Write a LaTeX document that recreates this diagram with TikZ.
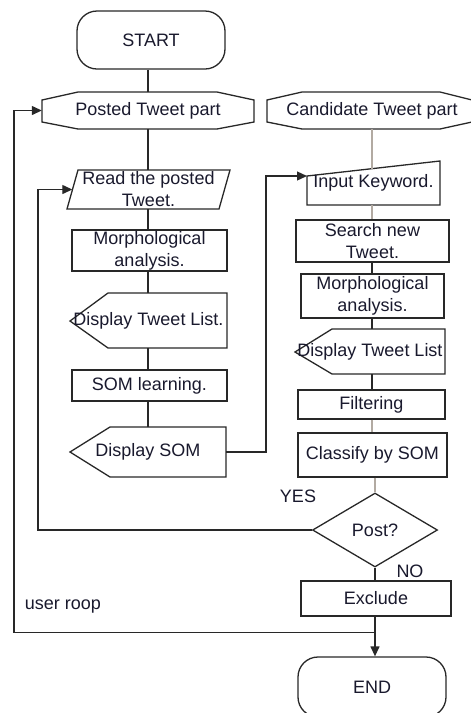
\documentclass[tikz,border=0pt]{standalone}
\usepackage{fontspec}
\setmainfont{Liberation Sans}
\usetikzlibrary{arrows.meta,shapes.geometric,calc}
\definecolor{ln}{RGB}{40,40,40}
\definecolor{gl}{RGB}{178,170,162}
\definecolor{tx}{RGB}{25,25,45}
\begin{document}
\begin{tikzpicture}[x=1pt,y=-1pt,
  font=\fontsize{18}{22}\selectfont, text=tx,
  shp/.style={draw=ln, line width=1.3pt, line join=miter},
  box/.style={shp, rectangle, inner sep=0pt, align=center},
  term/.style={box, rounded corners=20pt},
  lbl/.style={inner sep=0pt, align=center},
  conn/.style={draw=ln, line width=1.3pt},
  gconn/.style={draw=gl, line width=1.3pt},
  arr/.style={-{Triangle[length=10pt,width=9pt]}}]
\useasboundingbox (0,0) rectangle (471,713);

% ---- shapes drawn as paths ----
\draw[shp] (42,100)--(78,92)--(217,92)--(254,100)--(254,122)--(217,129)--(78,129)--(42,122)--cycle;
\draw[shp] (267,100)--(302,92)--(440,92)--(472,100)--(472,122)--(440,129)--(302,129)--(267,122)--cycle;
\draw[shp] (78,170)--(230,170)--(219,209)--(67,209)--cycle;
\draw[shp] (70,321)--(108,293)--(227,293)--(227,348)--(108,348)--cycle;
\draw[shp] (70,452)--(110,427)--(226,427)--(226,477)--(110,477)--cycle;
\draw[shp] (307,176)--(440,161)--(440,205)--(307,205)--cycle;
\draw[shp] (295,352)--(332,329)--(445,329)--(445,374)--(332,374)--cycle;

% ---- nodes ----
\node[term, minimum width=148pt, minimum height=58pt] (start) at (151,40) {START};
\node[lbl, minimum width=212pt, minimum height=37pt] (posted) at (148,110.5) {Posted Tweet part};
\node[lbl, minimum width=200pt, minimum height=37pt] (cand) at (372,110.5) {Candidate Tweet part};
\node[lbl, minimum width=152pt, minimum height=39pt] (read) at (148.5,189.5) {Read the posted\\Tweet.};
\node[box, minimum width=155pt, minimum height=41pt] (m1) at (149.5,250.5) {Morphological\\analysis.};
\node[lbl, minimum width=157pt, minimum height=55pt] (dtl1) at (148.5,320.5) {Display Tweet List.};
\node[box, minimum width=155pt, minimum height=31pt] (som) at (149.5,385.5) {SOM learning.};
\node[lbl, minimum width=156pt, minimum height=50pt] (dsom) at (148,452) {Display SOM};

\node[lbl, minimum width=133pt, minimum height=44pt] (input) at (373.5,183) {Input Keyword.};
\node[box, minimum width=153pt, minimum height=42pt] (search) at (372.5,241) {Search new\\Tweet.};
\node[box, minimum width=143pt, minimum height=44pt] (m2) at (372.5,296) {Morphological\\analysis.};
\node[lbl, minimum width=150pt, minimum height=45pt] (dtl2) at (370,351.5) {Display Tweet List};
\node[box, minimum width=147pt, minimum height=29pt] (filt) at (371.5,404.5) {Filtering};
\node[box, minimum width=149pt, minimum height=44pt] (cls) at (372.5,455) {Classify by SOM};
\node[shp, diamond, inner sep=0pt, minimum width=125pt, minimum height=74pt] (post) at (375,530) {Post?};
\node[box, minimum width=150pt, minimum height=35pt] (excl) at (376,598.5) {Exclude};
\node[term, minimum width=148pt, minimum height=60pt] (end) at (372,687) {END};

\node[lbl] (yes) at (298,496) {YES};
\node[lbl] (no) at (410,571) {NO};
\node[lbl] (roop) at (63,607) {user roop};

% ---- helper coordinates ----
\coordinate (inarr) at (307,176);
\coordinate (intop) at (372,168.6);
\coordinate (turn1) at (266,176);
\coordinate (turn2) at (38,0);
\coordinate (ul) at (14,0);
\path (excl.south -| post.south) ++(0,16) coordinate (jn);

% ---- left column ----
\draw[conn] (start.south -| posted.north) -- (posted.north);
\draw[conn] (posted.south) -- (posted.south |- read.north);
\draw[conn] (posted.south |- read.south) -- (posted.south |- m1.north);
\draw[conn] (posted.south |- m1.south) -- (posted.south |- dtl1.north);
\draw[conn] (posted.south |- dtl1.south) -- (posted.south |- som.north);
\draw[conn] (posted.south |- som.south) -- (posted.south |- dsom.north);
\draw[conn,arr] (dsom.east) -| (turn1) -- (inarr);

% ---- right column ----
\draw[gconn] (cand.south) -- (intop);
\draw[gconn] (cand.south |- input.south) -- (cand.south |- search.north);
\draw[conn] (cand.south |- search.south) -- (cand.south |- m2.north);
\draw[conn] (cand.south |- m2.south) -- (cand.south |- dtl2.north);
\draw[conn] (cand.south |- dtl2.south) -- (cand.south |- filt.north);
\draw[gconn] (cand.south |- filt.south) -- (cand.south |- cls.north);
\draw[gconn] (post.north |- cls.south) -- (post.north);
\draw[conn] (post.south) -- (post.south |- excl.north);
\draw[conn,arr] (post.south |- excl.south) -- (post.south |- end.north);

% ---- loops ----
\draw[conn,arr] (post.west) -| (turn2 |- read.west) -- (read.west);
\draw[conn,arr] (jn) -| (ul |- posted.west) -- (posted.west);
\end{tikzpicture}
\end{document}
